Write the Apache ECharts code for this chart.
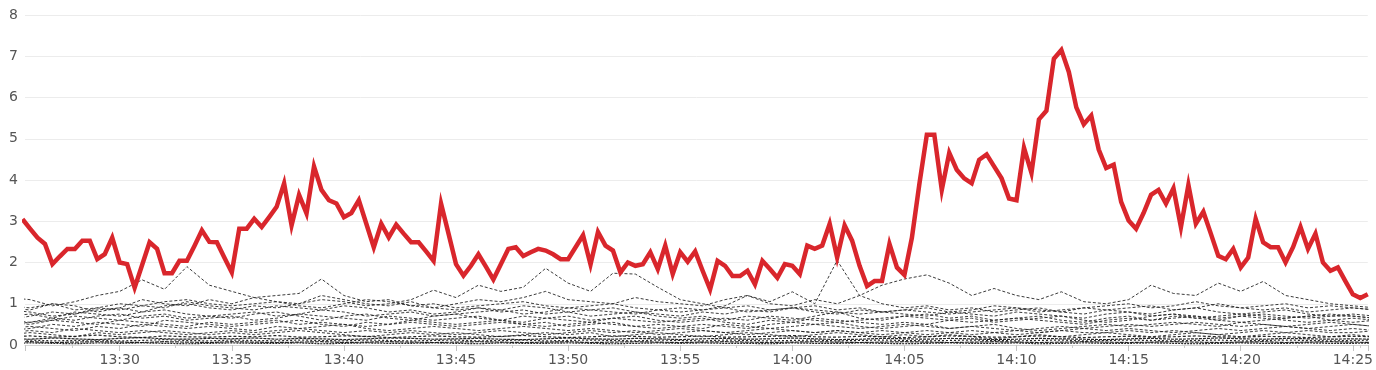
<!DOCTYPE html>
<html>
<head>
<meta charset="utf-8">
<script src="https://cdn.jsdelivr.net/npm/echarts@6.0.0/dist/echarts.min.js"></script>
<style>
html,body{margin:0;padding:0;background:#fff;}
#chart{width:1376px;height:370px;}
</style>
</head>
<body>
<div id="chart"></div>
<script>
// ---- time settings (x categories) ----
const redStart = Date.UTC(2020, 0, 1, 13, 25, 40);
const redStep = 20000;
const bgStart = Date.UTC(2020, 0, 1, 13, 25, 0);
const bgStep = 60000;
const xMin = Date.UTC(2020, 0, 1, 13, 25, 46, 600);
const xMax = Date.UTC(2020, 0, 1, 14, 25, 40);
const yTicks = [0, 1, 2, 3, 4, 5, 6, 7, 8];

// ---- highlighted series (every 20 s) ----
const redValues = [
  3.05,2.82,2.6,2.45,1.96,2.15,2.33,2.33,2.53,2.53,
  2.08,2.2,2.6,2.0,1.96,1.39,1.94,2.49,2.33,1.74,
  1.74,2.04,2.04,2.4,2.78,2.5,2.49,2.12,1.76,2.82,
  2.82,3.06,2.86,3.1,3.35,3.92,2.9,3.64,3.19,4.33,
  3.76,3.51,3.43,3.1,3.2,3.51,2.94,2.37,2.94,2.61,
  2.92,2.7,2.49,2.49,2.27,2.04,3.43,2.7,1.96,1.68,
  1.92,2.2,1.9,1.59,1.96,2.33,2.37,2.16,2.25,2.33,
  2.29,2.2,2.08,2.08,2.37,2.66,1.95,2.74,2.41,2.29,
  1.76,2.0,1.92,1.96,2.25,1.84,2.41,1.72,2.25,2.02,
  2.27,1.8,1.35,2.04,1.92,1.67,1.67,1.8,1.47,2.04,
  1.84,1.63,1.96,1.92,1.72,2.41,2.33,2.41,2.94,2.12,
  2.9,2.53,1.92,1.43,1.55,1.55,2.45,1.88,1.7,2.6,
  3.9,5.1,5.1,3.76,4.66,4.25,4.04,3.92,4.49,4.62,
  4.33,4.04,3.55,3.51,4.78,4.17,5.47,5.68,6.94,7.15,
  6.62,5.76,5.35,5.56,4.74,4.29,4.37,3.47,3.02,2.82,
  3.2,3.64,3.76,3.43,3.8,2.86,3.88,2.94,3.23,2.7,
  2.16,2.08,2.33,1.88,2.12,3.06,2.49,2.37,2.37,2.0,
  2.37,2.86,2.33,2.7,2.0,1.8,1.88,1.55,1.23,1.14,
  1.23
];

// ---- background series (every minute, 13:25 .. 14:26) ----
const bg1 = [1.15,1.1,0.95,1.05,1.2,1.3,1.58,1.35,1.9,1.45, 1.3,1.15,1.2,1.25,1.6,1.2,1.05,1.1,0.95,0.9, 0.85,0.9,0.8,0.85,0.75,0.8,0.7,0.75,0.8,0.7, 0.65,0.7,0.6,0.7,0.65,0.6,0.7,0.8,0.65,0.6, 0.7,0.75,0.65,0.7,0.6,0.65,0.7,0.6,0.55,0.65, 0.7,0.6,0.65,0.7,0.6,0.55,0.6,0.65,0.7,0.6, 0.55,0.6];
const bg2 = [0.6,0.7,0.8,0.75,0.85,0.9,0.8,0.95,1.0,0.9, 0.85,0.95,0.9,1.0,1.1,1.05,0.95,1.0,1.1,1.33, 1.15,1.45,1.3,1.4,1.86,1.5,1.3,1.74,1.72,1.4, 1.1,1.0,0.9,0.95,0.85,0.9,0.8,0.75,0.85,0.8, 0.75,0.7,0.8,0.75,0.7,0.8,0.75,0.7,0.65,0.75, 0.8,0.7,0.75,0.7,0.65,0.7,0.75,0.7,0.65,0.7, 0.7,0.65];
const bg3 = [0.9,0.85,1.0,0.95,0.8,0.9,1.1,1.0,0.95,1.1, 1.0,1.15,1.05,1.0,1.2,1.1,1.0,0.95,1.05,0.9, 1.0,1.1,1.05,1.15,1.3,1.1,1.05,1.0,1.15,1.05, 1.0,0.95,1.1,1.2,1.05,1.29,1.0,2.05,1.2,1.0, 0.9,0.95,0.85,0.9,0.8,0.85,0.9,0.8,0.75,0.85, 0.8,0.75,0.85,0.9,0.8,0.75,0.8,0.85,0.75,0.7, 0.75,0.7];
const bg4 = [0.5,0.55,0.6,0.7,0.65,0.6,0.7,0.75,0.65,0.7, 0.75,0.8,0.7,0.75,0.85,0.8,0.7,0.75,0.8,0.7, 0.75,0.8,0.85,0.75,0.8,0.9,0.85,0.8,0.75,0.85, 0.9,0.85,0.95,1.2,1.0,0.95,1.1,1.0,1.2,1.45, 1.6,1.7,1.5,1.2,1.37,1.2,1.1,1.29,1.05,1.0, 1.1,1.45,1.25,1.2,1.5,1.3,1.54,1.2,1.1,1.0, 0.95,0.9];
const bg5 = [0.85,0.8,0.7,0.75,0.9,0.85,0.95,0.9,1.05,0.95, 0.9,0.85,0.95,0.9,0.85,0.95,0.9,0.8,0.85,0.75, 0.8,0.9,0.85,0.95,0.9,0.8,0.85,0.9,0.8,0.75, 0.7,0.8,0.75,0.85,0.8,0.9,0.85,0.8,0.75,0.8, 0.85,0.9,0.8,0.85,0.95,0.9,0.85,0.8,0.9,0.85, 0.9,0.95,0.85,0.9,1.0,0.9,0.85,0.9,0.8,0.85, 0.9,0.85];
const bg6 = [0.6,0.55,0.65,0.6,0.7,0.75,0.65,0.7,0.6,0.65, 0.7,0.6,0.65,0.75,0.7,0.65,0.6,0.7,0.65,0.6, 0.65,0.7,0.6,0.55,0.65,0.7,0.6,0.65,0.7,0.6, 0.55,0.6,0.65,0.6,0.7,0.65,0.6,0.55,0.6,0.65, 0.7,0.65,0.6,0.55,0.6,0.65,0.6,0.55,0.5,0.6, 0.65,0.6,0.7,0.65,0.6,0.7,0.65,0.6,0.55,0.6, 0.65,0.6];
const bg7 = [0.55,0.5,0.6,0.55,0.5,0.6,0.55,0.5,0.45,0.55, 0.5,0.55,0.6,0.5,0.55,0.5,0.45,0.5,0.55,0.5, 0.45,0.5,0.55,0.5,0.45,0.5,0.55,0.5,0.45,0.4, 0.45,0.5,0.45,0.4,0.5,0.55,0.5,0.45,0.4,0.45, 0.5,0.45,0.4,0.45,0.4,0.35,0.4,0.45,0.4,0.45, 0.5,0.45,0.5,0.55,0.5,0.45,0.5,0.45,0.4,0.45, 0.5,0.45];
const bg8 = [0.4,0.45,0.4,0.35,0.45,0.4,0.5,0.45,0.4,0.45, 0.4,0.35,0.45,0.4,0.45,0.5,0.4,0.35,0.4,0.45, 0.4,0.35,0.4,0.45,0.4,0.35,0.4,0.35,0.3,0.35, 0.4,0.35,0.3,0.35,0.4,0.35,0.3,0.35,0.3,0.35, 0.3,0.35,0.3,0.25,0.3,0.35,0.3,0.35,0.4,0.35, 0.4,0.35,0.3,0.35,0.4,0.35,0.4,0.45,0.4,0.35, 0.4,0.35];
const bg9 = [0.7,0.75,0.65,0.8,0.75,0.7,0.8,0.85,0.75,0.7, 0.65,0.75,0.8,0.7,0.6,0.7,0.75,0.65,0.6,0.7, 0.75,0.65,0.6,0.7,0.65,0.6,0.55,0.65,0.6,0.55, 0.6,0.65,0.55,0.5,0.6,0.55,0.65,0.6,0.55,0.5, 0.55,0.5,0.6,0.65,0.55,0.6,0.65,0.7,0.6,0.55, 0.6,0.7,0.75,0.65,0.7,0.75,0.7,0.65,0.7,0.75, 0.7,0.65];
const bg10 = [0.25,0.3,0.25,0.2,0.3,0.25,0.3,0.35,0.3,0.25, 0.3,0.25,0.3,0.35,0.3,0.25,0.2,0.25,0.3,0.25, 0.3,0.25,0.2,0.25,0.3,0.25,0.3,0.2,0.25,0.3, 0.25,0.2,0.25,0.3,0.25,0.2,0.25,0.3,0.25,0.2, 0.25,0.2,0.25,0.2,0.15,0.2,0.25,0.2,0.25,0.3, 0.25,0.2,0.25,0.3,0.25,0.2,0.25,0.3,0.25,0.2, 0.25,0.2];
const bg11 = [0.16,0.14,0.17,0.15,0.13,0.16,0.18,0.15,0.14,0.16, 0.15,0.17,0.14,0.16,0.15,0.13,0.15,0.17,0.16,0.14, 0.15,0.16,0.14,0.13,0.15,0.17,0.15,0.14,0.16,0.15, 0.13,0.15,0.16,0.14,0.15,0.17,0.15,0.13,0.14,0.16, 0.15,0.14,0.16,0.15,0.13,0.14,0.16,0.15,0.14,0.13, 0.15,0.16,0.14,0.15,0.17,0.15,0.14,0.16,0.15,0.14, 0.15,0.14];
const bg12 = [0.11,0.12,0.1,0.11,0.12,0.1,0.11,0.13,0.11,0.1, 0.12,0.11,0.1,0.12,0.11,0.1,0.12,0.11,0.1,0.11, 0.12,0.1,0.11,0.12,0.1,0.11,0.12,0.11,0.1,0.12, 0.11,0.1,0.12,0.11,0.1,0.11,0.12,0.1,0.11,0.12, 0.11,0.1,0.11,0.12,0.11,0.1,0.11,0.12,0.1,0.11, 0.12,0.11,0.1,0.11,0.12,0.1,0.11,0.12,0.11,0.1, 0.11,0.12];
const bg13 = [0.07,0.08,0.06,0.07,0.08,0.07,0.06,0.08,0.07,0.06, 0.08,0.07,0.06,0.07,0.08,0.06,0.07,0.08,0.07,0.06, 0.07,0.08,0.07,0.06,0.07,0.08,0.06,0.07,0.08,0.07, 0.06,0.07,0.08,0.07,0.06,0.07,0.08,0.07,0.06,0.07, 0.08,0.07,0.06,0.07,0.08,0.07,0.06,0.07,0.08,0.07, 0.06,0.07,0.08,0.07,0.06,0.07,0.08,0.06,0.07,0.08, 0.07,0.06];
const bg14 = [0.2,0.22,0.19,0.21,0.24,0.2,0.18,0.22,0.2,0.19, 0.21,0.2,0.23,0.19,0.2,0.22,0.21,0.18,0.2,0.22, 0.2,0.19,0.21,0.23,0.2,0.18,0.2,0.22,0.21,0.19, 0.2,0.22,0.19,0.2,0.21,0.23,0.2,0.19,0.21,0.2, 0.18,0.2,0.22,0.21,0.19,0.2,0.22,0.2,0.18,0.2, 0.21,0.19,0.2,0.22,0.2,0.19,0.21,0.2,0.18,0.2, 0.21,0.2];
const bg15 = [0.04,0.05,0.04,0.03,0.05,0.04,0.05,0.04,0.03,0.04, 0.05,0.04,0.04,0.05,0.03,0.04,0.05,0.04,0.04,0.05, 0.04,0.03,0.05,0.04,0.04,0.05,0.04,0.03,0.04,0.05, 0.04,0.05,0.04,0.04,0.03,0.05,0.04,0.04,0.05,0.04, 0.03,0.04,0.05,0.04,0.04,0.05,0.03,0.04,0.05,0.04, 0.04,0.05,0.04,0.03,0.04,0.05,0.04,0.04,0.05,0.04, 0.04,0.05];
const bg16 = [0.35,0.4,0.5,0.45,0.55,0.5,0.45,0.6,0.55,0.5, 0.45,0.5,0.55,0.6,0.5,0.45,0.55,0.5,0.6,0.55, 0.5,0.55,0.6,0.5,0.55,0.45,0.5,0.55,0.45,0.5, 0.45,0.4,0.5,0.45,0.4,0.45,0.5,0.55,0.45,0.4, 0.45,0.5,0.4,0.45,0.5,0.4,0.35,0.4,0.45,0.5, 0.45,0.5,0.55,0.5,0.45,0.55,0.5,0.45,0.5,0.55, 0.5,0.45];
const bg17 = [0.95,0.9,1.0,0.85,0.9,1.0,0.95,1.05,1.1,1.0, 0.95,1.0,1.05,0.95,0.9,1.0,1.1,1.05,0.95,1.0, 0.9,0.95,1.0,1.05,0.95,0.9,0.95,1.0,0.9,0.85, 0.8,0.85,0.9,0.8,0.85,0.9,0.95,0.85,0.9,0.8, 0.85,0.8,0.75,0.8,0.85,0.9,0.8,0.85,0.9,0.95, 1.0,0.9,0.95,1.05,0.95,0.9,0.95,1.0,0.9,0.95, 0.9,0.85];
const bg18 = [0.3,0.35,0.3,0.4,0.35,0.3,0.35,0.3,0.25,0.3, 0.35,0.3,0.35,0.4,0.35,0.3,0.35,0.3,0.35,0.3, 0.25,0.3,0.35,0.3,0.25,0.3,0.35,0.3,0.35,0.25, 0.3,0.35,0.3,0.25,0.3,0.35,0.3,0.35,0.3,0.25, 0.3,0.25,0.3,0.35,0.3,0.25,0.3,0.35,0.3,0.3, 0.35,0.3,0.35,0.3,0.25,0.3,0.35,0.3,0.35,0.3, 0.3,0.35];

const bgUpper = [bg1, bg2, bg3, bg4, bg5, bg6, bg7, bg8, bg9, bg10, bg16, bg17, bg18];
const bgFloor = [bg11, bg12, bg13, bg14, bg15];

function pad(n){ return (n < 10 ? '0' : '') + n; }
function toPairs(arr){ return arr.map(function (v, i) { return [bgStart + i * bgStep, v]; }); }

const series = [];
bgUpper.forEach(function (arr, i) {
  series.push({
    type: 'line', data: toPairs(arr), symbol: 'none', silent: true, clip: true, z: 2,
    lineStyle: { width: 1, color: '#262626', opacity: 0.9, type: [3, 2], dashOffset: i % 5 }
  });
});
const floorDash = [[3, 1], [2, 2], [4, 1], [3, 2], [2, 1]];
bgFloor.forEach(function (arr, i) {
  series.push({
    type: 'line', data: toPairs(arr), symbol: 'none', silent: true, clip: true, z: 2,
    lineStyle: { width: 1.2, color: '#111111', opacity: 0.9, type: floorDash[i], dashOffset: i * 1.3 }
  });
});
series.push({
  type: 'line',
  data: redValues.map(function (v, i) { return [redStart + i * redStep, v]; }),
  symbol: 'none', silent: true, clip: true, z: 5,
  lineStyle: { width: 4.5, color: '#d9262c', join: 'miter' }
});

const chart = echarts.init(document.getElementById('chart'), null, { renderer: 'canvas' });
chart.setOption({
  animation: false,
  useUTC: true,
  backgroundColor: '#ffffff',
  grid: { left: 25, right: 4, top: 15, bottom: 25, containLabel: false },
  xAxis: {
    type: 'time',
    min: xMin,
    max: xMax,
    minInterval: 330000,
    maxInterval: 330000,
    splitLine: { show: false },
    axisLine: { show: true, lineStyle: { color: '#d6d6d6', width: 1 } },
    axisTick: { show: true, length: 6, lineStyle: { color: '#c4c4c4' } },
    minorTick: { show: true, splitNumber: 2, length: 3, lineStyle: { color: '#cccccc' } },
    axisLabel: {
      color: '#555555',
      fontSize: 14,
      fontFamily: 'DejaVu Sans',
      margin: 8,
      hideOverlap: false,
      formatter: function (v) {
        const d = new Date(v);
        const m = d.getUTCMinutes(), s = d.getUTCSeconds();
        if (m % 5 !== 0 || s !== 0 || d.getUTCMilliseconds() !== 0) return '';
        return d.getUTCHours() + ':' + pad(m);
      }
    }
  },
  yAxis: {
    type: 'value',
    min: yTicks[0],
    max: yTicks[yTicks.length - 1],
    interval: 1,
    axisLine: { show: false },
    axisTick: { show: false },
    splitLine: { show: true, lineStyle: { color: '#ececec', width: 1 } },
    axisLabel: { color: '#555555', fontSize: 14, fontFamily: 'DejaVu Sans', margin: 7 }
  },
  series: series
});
</script>
</body>
</html>
